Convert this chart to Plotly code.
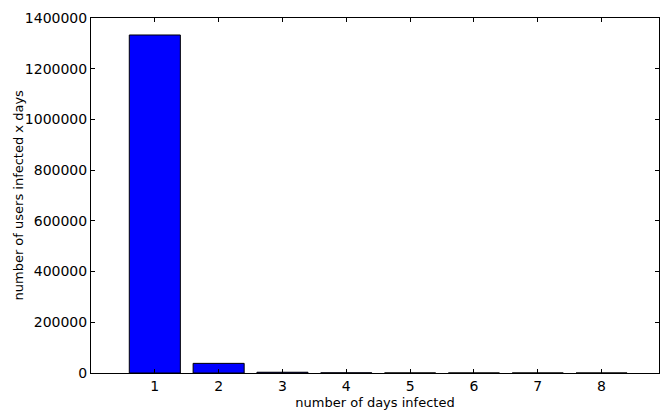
import plotly.graph_objects as go

days = [1, 2, 3, 4, 5, 6, 7, 8]
users = [1333000, 38000, 3000, 600, 200, 80, 30, 15]
y_ticks = [0, 200000, 400000, 600000, 800000, 1000000, 1200000, 1400000]

fnt = dict(family="DejaVu Sans", size=13, color="black")
tfnt = dict(family="DejaVu Sans", size=14, color="black")

fig = go.Figure(go.Bar(
    x=days, y=users, width=0.8,
    marker=dict(color="#0000ff", line=dict(color="black", width=1)),
))

axis_common = dict(
    showline=True, linecolor="black", linewidth=1, mirror="allticks",
    ticks="inside", ticklen=4, tickcolor="black", showgrid=False, zeroline=False,
    tickfont=tfnt,
)
fig.update_xaxes(range=[0, 8.9], tickvals=days, ticktext=[str(d) for d in days],
                 title=dict(text="number of days infected", standoff=6, font=fnt),
                 **axis_common)
fig.update_yaxes(range=[0, 1400000], tickvals=y_ticks, ticktext=[str(v) for v in y_ticks],
                 **axis_common)
fig.add_annotation(text="number of users infected x days", textangle=-90,
                   xref="paper", yref="paper", x=(18 - 91) / 568, y=0.5,
                   xanchor="center", yanchor="middle", showarrow=False, font=fnt)
fig.update_layout(
    width=660, height=410, margin=dict(l=91, r=1, t=18, b=37),
    plot_bgcolor="white", paper_bgcolor="white", showlegend=False,
    font=dict(family="DejaVu Sans"),
)
fig.write_html("out.html")
